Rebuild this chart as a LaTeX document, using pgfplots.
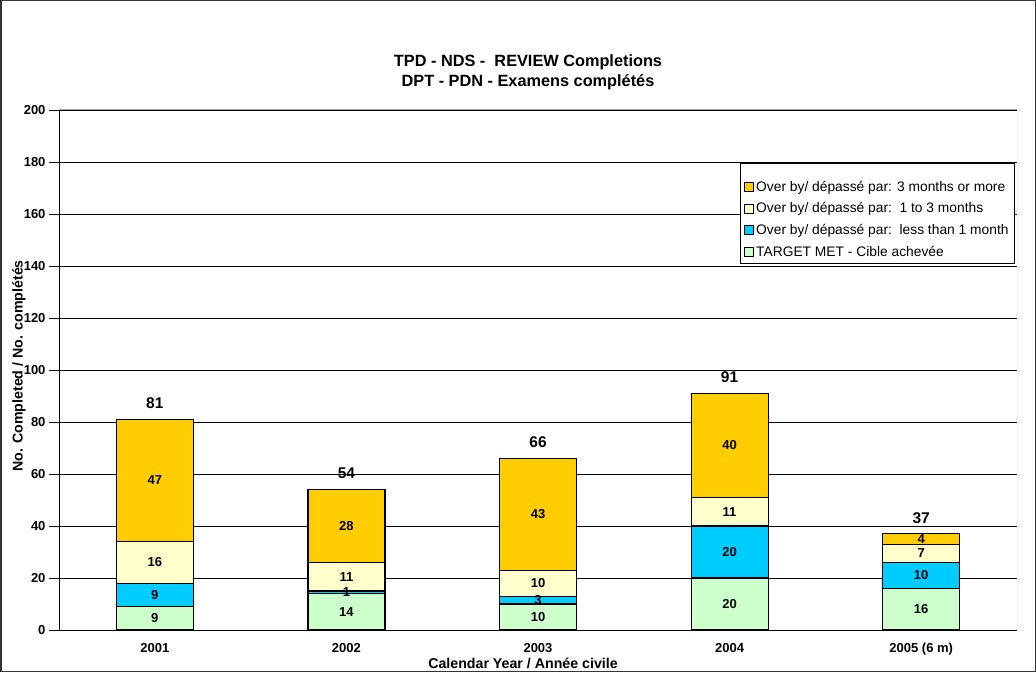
\documentclass[border=0pt]{standalone}
\usepackage{pgfplots}
\pgfplotsset{compat=1.18}
\usepackage{fontspec}
\setmainfont{Liberation Sans}

\definecolor{overthree}{HTML}{FFCC00}
\definecolor{overone}{HTML}{FFFFCC}
\definecolor{overless}{HTML}{00CCFF}
\definecolor{target}{HTML}{CCFFCC}

\pgfplotsset{
  sq/.style={legend image code/.code={\draw[##1, draw=black, line width=0.8pt] (0pt,-4.5pt) rectangle (9pt,4.5pt);}},
}

\begin{document}
\begin{tikzpicture}[x=1pt,y=1pt]
\path[use as bounding box] (0,0) rectangle (1036,672);
\draw[line width=1.5pt, black!80] (0.75,0.75) rectangle (1035.25,671.25);

\begin{axis}[
    at={(59pt,42pt)}, anchor=south west,
    scale only axis,
    width=958pt, height=520pt,
    ybar stacked,
    bar width=77pt,
    xmin=-0.5, xmax=4.5,
    ymin=0, ymax=200,
    axis lines*=left,
    axis line style={black, line width=0.8pt},
    xtick={0,1,2,3,4},
    xticklabels={2001,2002,2003,2004,2005 (6 m)},
    minor xtick={-0.5,0.5,1.5,2.5,3.5,4.5},
    xtick style={draw=none},
    minor tick length=5pt,
    ytick={0,20,...,200},
    major tick length=10pt,
    tick align=outside,
    tick style={black, line width=0.8pt},
    ymajorgrids,
    major grid style={black, line width=0.7pt},
    /pgf/number format/assume math mode=true,
    ticklabel style={font=\fontsize{13}{15}\selectfont\bfseries},
    xticklabel style={yshift=0pt},
    every axis plot/.append style={draw=black, line width=1.2pt},
    reverse legend,
    legend style={at={(0.998,0.898)}, anchor=north east, draw=black, line width=1pt,
      font=\fontsize{13.8}{16}\selectfont, row sep=6pt, inner sep=4pt,
      cells={anchor=west}},
]
\addplot[fill=target, sq] coordinates {(0,9) (1,14) (2,10) (3,20) (4,16)};
\addlegendentry{TARGET MET - Cible achevée}
\addplot[fill=overless, sq] coordinates {(0,9) (1,1) (2,3) (3,20) (4,10)};
\addlegendentry{Over by/ dépassé par:\ \ less than 1 month}
\addplot[fill=overone, sq] coordinates {(0,16) (1,11) (2,10) (3,11) (4,7)};
\addlegendentry{Over by/ dépassé par:\ \ 1 to 3 months}
\addplot[fill=overthree, sq] coordinates {(0,47) (1,28) (2,43) (3,40) (4,4)};
\addlegendentry{Over by/ dépassé par: 3 months or more}
\addlegendimage{empty legend}
\addlegendentry{}
\draw[gray!70, line width=1pt] (rel axis cs:0,1) -- (rel axis cs:1,1) -- (rel axis cs:1,0);
\end{axis}

\begin{axis}[
    at={(59pt,42pt)}, anchor=south west,
    scale only axis,
    width=958pt, height=520pt,
    xmin=-0.5, xmax=4.5,
    ymin=0, ymax=200,
    hide axis,
    /pgf/number format/assume math mode=true,
]
\addplot[only marks, mark=none, nodes near coords, point meta=explicit symbolic,
  nodes near coords style={anchor=center, font=\fontsize{13}{15}\selectfont\bfseries}]
  table[meta=lab] {
x y lab
0 4.5 9
0 13.5 9
0 26 16
0 57.5 47
1 7 14
1 14.5 1
1 20.5 11
1 40 28
2 5 10
2 11.5 3
2 18 10
2 44.5 43
3 10 20
3 30 20
3 45.5 11
3 71 40
4 8 16
4 21 10
4 29.5 7
4 35 4
};
\addplot[only marks, mark=none, nodes near coords,
  nodes near coords style={anchor=center, yshift=16pt, font=\fontsize{15.5}{18}\selectfont\bfseries}]
  coordinates {(0,81) (1,54) (2,66) (3,91) (4,37)};
\end{axis}

\node[font=\fontsize{16.3}{19}\selectfont\bfseries] at (528,610) {TPD - NDS -\ \ REVIEW Completions};
\node[font=\fontsize{16.3}{19}\selectfont\bfseries] at (528,590) {DPT - PDN - Examens complétés};
\node[font=\fontsize{14.2}{17}\selectfont\bfseries] at (523,9) {Calendar Year / Année civile};
\node[font=\fontsize{14.2}{17}\selectfont\bfseries, rotate=90] at (19,306) {No. Completed / No. complétés};
\end{tikzpicture}
\end{document}
